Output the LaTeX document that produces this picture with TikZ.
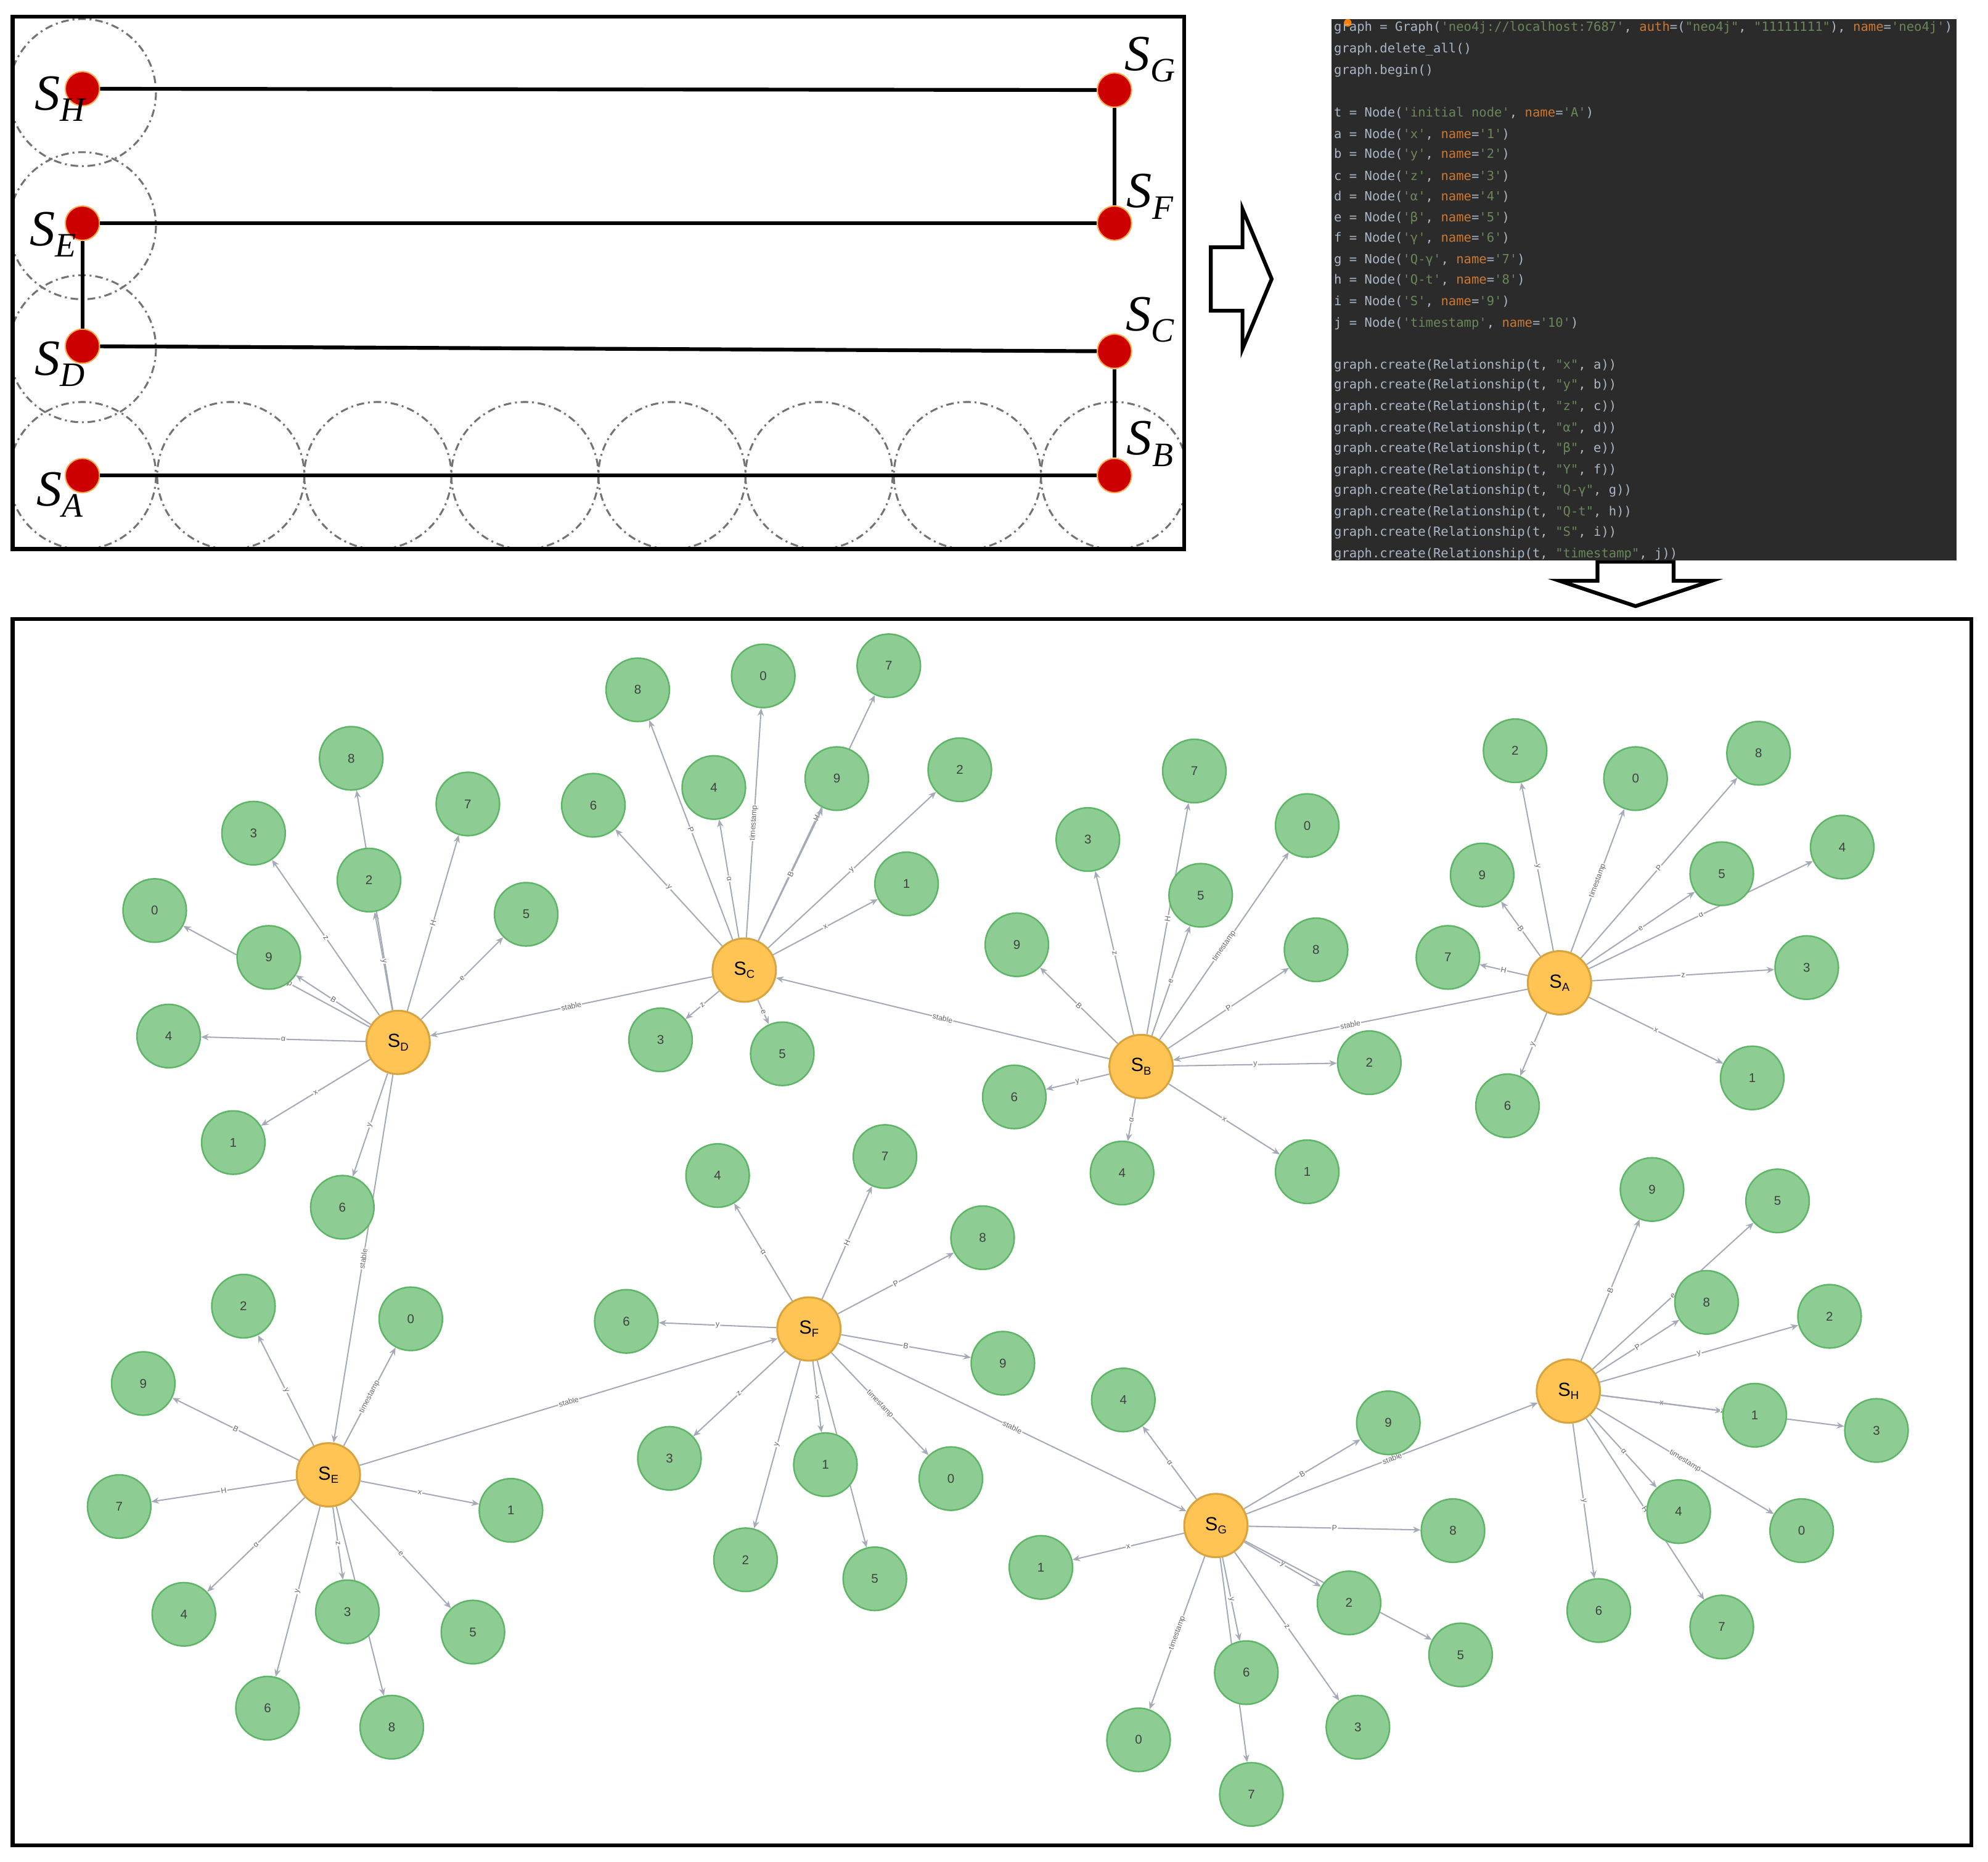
\documentclass[tikz,border=0pt]{standalone}
\usepackage{fontspec}
\setmainfont{Liberation Sans}
\newfontfamily\serfont{Liberation Serif}
\newfontfamily\codefont{DejaVu Sans Mono}
\usetikzlibrary{arrows.meta}
\pgfdeclarelayer{bg}
\pgfsetlayers{bg,main}
\definecolor{gfill}{HTML}{8DCC93}
\definecolor{gline}{HTML}{5DB665}
\definecolor{ofill}{HTML}{FFC454}
\definecolor{oline}{HTML}{D9A43E}
\definecolor{eline}{HTML}{A5ABB6}
\definecolor{cbg}{HTML}{2B2B2B}
\definecolor{ctx}{HTML}{A9B7C6}
\definecolor{cstr}{HTML}{6A8759}
\definecolor{ckw}{HTML}{CC7832}
\newcommand\elab[1]{\ifcase#1 timestamp\or x\or y\or z\or α\or e\or y\or H\or P\or B\fi}
\newcommand\cs[1]{\textcolor{cstr}{#1}}
\newcommand\ck[1]{\textcolor{ckw}{#1}}
\newcommand\bigS[1]{{\serfont\itshape\fontsize{40}{40}\selectfont S\raisebox{-9pt}{\fontsize{27}{27}\selectfont #1}}}
\newcommand\smS[1]{{\fontsize{15}{15}\selectfont S\raisebox{-2.5pt}{\fontsize{9}{9}\selectfont #1}}}
\tikzset{
 gn/.style={circle,draw=gline,fill=gfill,line width=1.2pt,minimum size=50pt,inner sep=0pt,font=\fontsize{10}{12}\selectfont,text=black!75},
 on/.style={circle,draw=oline,fill=ofill,line width=1.5pt,minimum size=50pt,inner sep=0pt,text=black},
 edgeline/.style={draw=eline,line width=1pt,-{Stealth[length=6pt,width=5pt]}},
 lab/.style={sloped,fill=white,inner sep=0.6pt,font=\fontsize{6}{7}\selectfont,text=black!60},
 rdot/.style={circle,draw=orange!70,fill=red!80!black,line width=1pt,minimum size=27pt,inner sep=0pt},
 frame/.style={draw=black,line width=3pt},
 dd/.style={draw=black!55,line width=1.5pt,dash pattern=on 6pt off 3pt on 1.5pt off 3pt},
 hollow/.style={draw=black,line width=3pt,fill=white,line join=miter}
}
\newcommand\cluster[4]{%
 \node[on] (#1) at (#2,#3) {\smS{#1}};
 \foreach \d/\px/\py in {#4}{%
  \node[gn] (#1-\d) at (\px,\py) {\d};
  \begin{pgfonlayer}{bg}
  \draw[edgeline] (#1) -- node[lab]{\elab{\d}} (#1-\d);
  \end{pgfonlayer}
 }%
}
\begin{document}
\begin{tikzpicture}[x=1pt,y=-1pt]
\useasboundingbox (0,0) rectangle (1568,1468.3);
\begin{pgfonlayer}{bg}
\fill[white] (0,0) rectangle (1568,1468.3);
\end{pgfonlayer}
% top-left panel
\begin{scope}
\clip (10,13) rectangle (934,433);
\foreach \yy in {73,178,275} \draw[dd] (65,\yy) circle (58);
\foreach \xx in {65,182,298,414,530,646,763,879} \draw[dd] (\xx,375) circle (58);
\end{scope}
\draw[frame] (10,13) rectangle (934,433);
\node[rdot] (pH) at (65,70) {};
\node[rdot] (pG) at (879,71) {};
\node[rdot] (pE) at (65,176) {};
\node[rdot] (pF) at (879,176) {};
\node[rdot] (pD) at (65,273) {};
\node[rdot] (pC) at (879,277) {};
\node[rdot] (pA) at (65,375) {};
\node[rdot] (pB) at (879,375) {};
\begin{scope}[line width=3pt]
\draw (pH) -- (pG); \draw (pG) -- (pF); \draw (pF) -- (pE); \draw (pE) -- (pD);
\draw (pD) -- (pC); \draw (pC) -- (pB); \draw (pB) -- (pA);
\end{scope}
\node (lH) at (47,78) {\bigS{H}};
\node (lE) at (42,185) {\bigS{E}};
\node (lD) at (47,287) {\bigS{D}};
\node (lA) at (47,390) {\bigS{A}};
\node (lG) at (907,47) {\bigS{G}};
\node (lF) at (907,155) {\bigS{F}};
\node (lC) at (907,252) {\bigS{C}};
\node (lB) at (907,350) {\bigS{B}};
% hollow arrows
\draw[hollow] (955,195) -- (980,195) -- (980,165) -- (1003,220) -- (980,275) -- (980,245) -- (955,245) -- cycle;
\draw[hollow] (1260,443) -- (1320,443) -- (1320,458) -- (1350,458) -- (1290,478) -- (1230,458) -- (1260,458) -- cycle;
% code panel
\fill[cbg] (1050,15) rectangle (1543,442);
\fill[orange] (1063,18) circle (3);
\begin{scope}[every node/.style={anchor=west,inner sep=0pt,font=\codefont\fontsize{10}{11}\selectfont,text=ctx}]
\node (c1) at (1052,22) {graph = Graph(\cs{'neo4j://localhost:7687'}, \ck{auth}=(\cs{"neo4j"}, \cs{"11111111"}), \ck{name}=\cs{'neo4j'})};
\node (c2) at (1052,39) {graph.delete\_all()};
\node (c3) at (1052,56) {graph.begin()};
\node (c4) at (1052,89) {t = Node(\cs{'initial node'}, \ck{name}=\cs{'A'})};
\node (c5) at (1052,106) {a = Node(\cs{'x'}, \ck{name}=\cs{'1'})};
\node (c6) at (1052,122) {b = Node(\cs{'y'}, \ck{name}=\cs{'2'})};
\node (c7) at (1052,139) {c = Node(\cs{'z'}, \ck{name}=\cs{'3'})};
\node (c8) at (1052,155) {d = Node(\cs{'α'}, \ck{name}=\cs{'4'})};
\node (c9) at (1052,172) {e = Node(\cs{'β'}, \ck{name}=\cs{'5'})};
\node (c10) at (1052,188) {f = Node(\cs{'γ'}, \ck{name}=\cs{'6'})};
\node (c11) at (1052,205) {g = Node(\cs{'Q-γ'}, \ck{name}=\cs{'7'})};
\node (c12) at (1052,221) {h = Node(\cs{'Q-t'}, \ck{name}=\cs{'8'})};
\node (c13) at (1052,238) {i = Node(\cs{'S'}, \ck{name}=\cs{'9'})};
\node (c14) at (1052,255) {j = Node(\cs{'timestamp'}, \ck{name}=\cs{'10'})};
\node (c15) at (1052,288) {graph.create(Relationship(t, \cs{"x"}, a))};
\node (c16) at (1052,304) {graph.create(Relationship(t, \cs{"y"}, b))};
\node (c17) at (1052,321) {graph.create(Relationship(t, \cs{"z"}, c))};
\node (c18) at (1052,338) {graph.create(Relationship(t, \cs{"α"}, d))};
\node (c19) at (1052,354) {graph.create(Relationship(t, \cs{"β"}, e))};
\node (c20) at (1052,371) {graph.create(Relationship(t, \cs{"Y"}, f))};
\node (c21) at (1052,387) {graph.create(Relationship(t, \cs{"Q-γ"}, g))};
\node (c22) at (1052,404) {graph.create(Relationship(t, \cs{"Q-t"}, h))};
\node (c23) at (1052,420) {graph.create(Relationship(t, \cs{"S"}, i))};
\node (c24) at (1052,437) {graph.create(Relationship(t, \cs{"timestamp"}, j))};
\end{scope}
% bottom panel
\draw[frame] (10,488) rectangle (1555,1455);
\cluster{D}{314}{822}{8/277/598,3/200/657,7/369/634,2/291/694,0/122/718,9/212/755,5/415/721,4/133/817,1/184/901,6/270/952}
\cluster{C}{587}{765}{8/503/544,0/602/533,7/701/525,6/468/635,4/563/621,9/660/614,2/757/607,1/715/697,3/521/820,5/617/831}
\cluster{B}{900}{841}{7/942/608,3/858/662,0/1031/651,5/947/706,9/802/745,8/1038/749,6/800/865,2/1080/838,4/885/925,1/1031/924}
\cluster{A}{1230}{775}{2/1195/592,0/1290/614,8/1387/594,4/1453/668,5/1358/689,9/1169/690,7/1142/755,3/1425/763,1/1382/850,6/1189/872}
\cluster{E}{259}{1163}{2/192/1030,0/324/1040,9/113/1091,7/94/1188,1/403/1191,4/145/1273,3/274/1271,5/373/1287,6/211/1347,8/309/1362}
\cluster{F}{638}{1048}{4/566/927,7/698/912,8/775/976,6/494/1042,9/791/1075,3/528/1150,1/651/1155,0/750/1166,2/588/1230,5/690/1245}
\cluster{G}{959}{1203}{4/886/1104,9/1095/1122,8/1146/1207,1/821/1236,2/1064/1264,5/1152/1305,6/983/1319,3/1071/1362,0/898/1372,7/987/1415}
\cluster{H}{1237}{1097}{9/1303/938,5/1402/947,8/1346/1027,2/1443/1038,1/1384/1116,3/1480/1128,4/1324/1192,0/1421/1207,6/1261/1270,7/1358/1283}
\begin{pgfonlayer}{bg}
\foreach \a/\b in {C/D,B/C,A/B,D/E,E/F,F/G,G/H}
 \draw[edgeline] (\a) -- node[lab]{stable} (\b);
\end{pgfonlayer}
\end{tikzpicture}
\end{document}
